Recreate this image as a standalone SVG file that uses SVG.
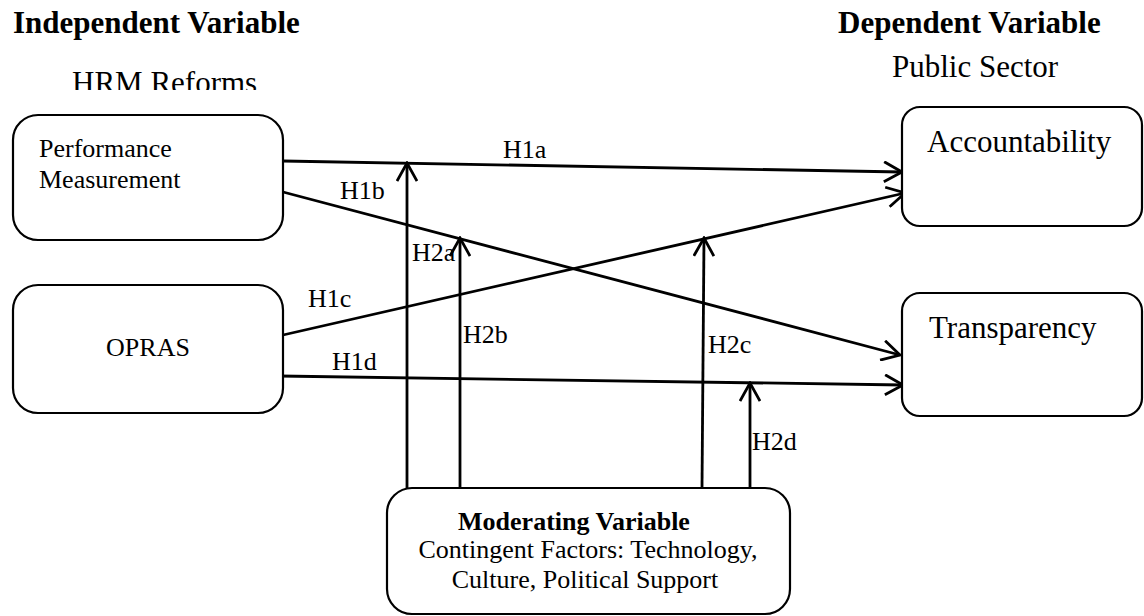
<svg xmlns="http://www.w3.org/2000/svg" width="1144" height="616" viewBox="0 0 1144 616">
<style>
.box{fill:#fff;stroke:#000;stroke-width:2.2}
.t{font-family:"Liberation Serif","Times New Roman",serif;fill:#000}
.b{font-weight:bold}
.s26{font-size:26px}
.s31{font-size:31px}
.c{stroke:#000;stroke-width:2.8;fill:none;marker-end:url(#arr)}
</style>
<defs>
<marker id="arr" viewBox="0 0 22 22" refX="20" refY="11" markerWidth="22" markerHeight="22" markerUnits="userSpaceOnUse" orient="auto">
<path d="M2,1 L20,11 L2,21" fill="none" stroke="#000" stroke-width="2.8"/>
</marker>
<clipPath id="clipHRM"><rect x="0" y="50" width="400" height="40"/></clipPath>
</defs>
<rect width="1144" height="616" fill="#fff"/>
<g id="titles">
<text class="t b s31" x="13" y="33">Independent Variable</text>
<text class="t s31" x="72" y="93" clip-path="url(#clipHRM)">HRM Reforms</text>
<text class="t b s31" x="838" y="33">Dependent Variable</text>
<text class="t s31" x="892" y="77">Public Sector</text>
</g>
<g id="connectors">
<line class="c" x1="283" y1="161" x2="902" y2="172"/>
<line class="c" x1="283" y1="192" x2="900" y2="355"/>
<line class="c" x1="283" y1="335" x2="905" y2="193"/>
<line class="c" x1="279" y1="376" x2="903" y2="385"/>
<line class="c" x1="407" y1="488" x2="407" y2="163"/>
<line class="c" x1="460" y1="488" x2="460" y2="238"/>
<line class="c" x1="702" y1="488" x2="704" y2="238"/>
<line class="c" x1="750" y1="488" x2="750" y2="383"/>
<text class="t s26" x="503" y="158">H1a</text>
<text class="t s26" x="340" y="199">H1b</text>
<text class="t s26" x="308" y="307">H1c</text>
<text class="t s26" x="332" y="370">H1d</text>
<text class="t s26" x="412" y="261">H2a</text>
<text class="t s26" x="463" y="343">H2b</text>
<text class="t s26" x="708" y="353">H2c</text>
<text class="t s26" x="752" y="450">H2d</text>
</g>
<g id="performance">
<rect class="box" x="13" y="115" width="270" height="125" rx="25"/>
<text class="t s26" x="39" y="157">Performance</text>
<text class="t s26" x="39" y="188">Measurement</text>
</g>
<g id="opras">
<rect class="box" x="13" y="285" width="270" height="128" rx="25"/>
<text class="t s26" x="148" y="356" text-anchor="middle">OPRAS</text>
</g>
<g id="accountability">
<rect class="box" x="902" y="107" width="240" height="119" rx="18"/>
<text class="t s31" x="927" y="152">Accountability</text>
</g>
<g id="transparency">
<rect class="box" x="902" y="293" width="240" height="123" rx="18"/>
<text class="t s31" x="929" y="338">Transparency</text>
</g>
<g id="moderating">
<rect class="box" x="387" y="488" width="403" height="126" rx="25"/>
<text class="t b s26" x="574" y="530" text-anchor="middle">Moderating Variable</text>
<text class="t s26" x="588" y="558" text-anchor="middle">Contingent Factors: Technology,</text>
<text class="t s26" x="585" y="588" text-anchor="middle">Culture, Political Support</text>
</g>
</svg>
